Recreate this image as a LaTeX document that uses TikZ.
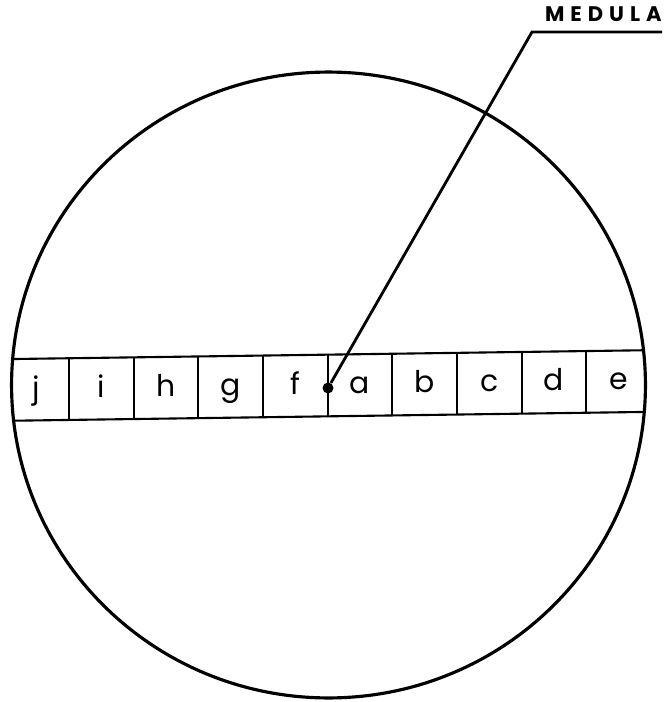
\documentclass[tikz,border=0pt]{standalone}
\usepackage{fontspec}
\setmainfont{Poppins}
\usetikzlibrary{positioning}

\begin{document}
\begin{tikzpicture}[
		x=0.02cm, y=-0.02cm,
		node distance=0pt,
		rim/.style={draw=black, line width=1.8pt},
		rule/.style={draw=black, line width=1.2pt},
		cell/.style={rectangle, minimum width=1.28cm, minimum height=1.22cm, inner sep=0pt, text height=0.32cm, text depth=0pt, font=\fontsize{17}{20}\selectfont},
		upcell/.style={cell, yshift=0.2mm},
		downcell/.style={cell, yshift=-0.2mm},
		pith/.style={circle, fill=black, inner sep=0pt, minimum size=0.22cm},
		leader/.style={draw=black, line width=1.6pt}
	]
	\useasboundingbox (0,0) rectangle (665,702);
	
	% Cells of the strip
	\node[cell] (a) at (360,385) {a};
	\node[upcell, right=of a] (b) {b};
	\node[upcell, right=of b] (c) {c};
	\node[upcell, right=of c] (d) {d};
	\node[upcell, right=of d] (e) {e};
	\node[downcell, left=of a] (f) {f};
	\node[downcell, left=of f] (g) {g};
	\node[downcell, left=of g] (h) {h};
	\node[downcell, left=of h] (i) {i};
	\node[downcell, left=of i] (j) {j};
	
	% Strip edges, cut by the disc
	\begin{scope}
		\clip (328.5,385) ellipse [x radius=6.34cm, y radius=6.26cm];
		\draw[rule] (j.north west) -- (e.north east);
		\draw[rule] (j.south west) -- (e.south east);
	\end{scope}
	\draw[rule] (i.north west) -- (i.south west);
	\draw[rule] (h.north west) -- (h.south west);
	\draw[rule] (g.north west) -- (g.south west);
	\draw[rule] (f.north west) -- (f.south west);
	\draw[rule] (a.north west) -- (a.south west);
	\draw[rule] (b.north west) -- (b.south west);
	\draw[rule] (c.north west) -- (c.south west);
	\draw[rule] (d.north west) -- (d.south west);
	\draw[rule] (e.north west) -- (e.south west);
	
	% Disc
	\draw[rim] (328.5,385) ellipse [x radius=6.34cm, y radius=6.26cm];
	
	% Medula
	\node[pith] (pith) at (328,388) {};
	\coordinate (knee) at (532,32);
	\node[anchor=south east, inner xsep=0pt, inner ysep=0.2cm, font=\fontsize{12}{14}\selectfont\bfseries] (medlabel) at (662,32) {M\kern0.12cm E\kern0.12cm D\kern0.12cm U\kern0.12cm L\kern0.12cm A};
	\draw[leader] (pith) -- (knee) -- (medlabel.south east);
\end{tikzpicture}
\end{document}
